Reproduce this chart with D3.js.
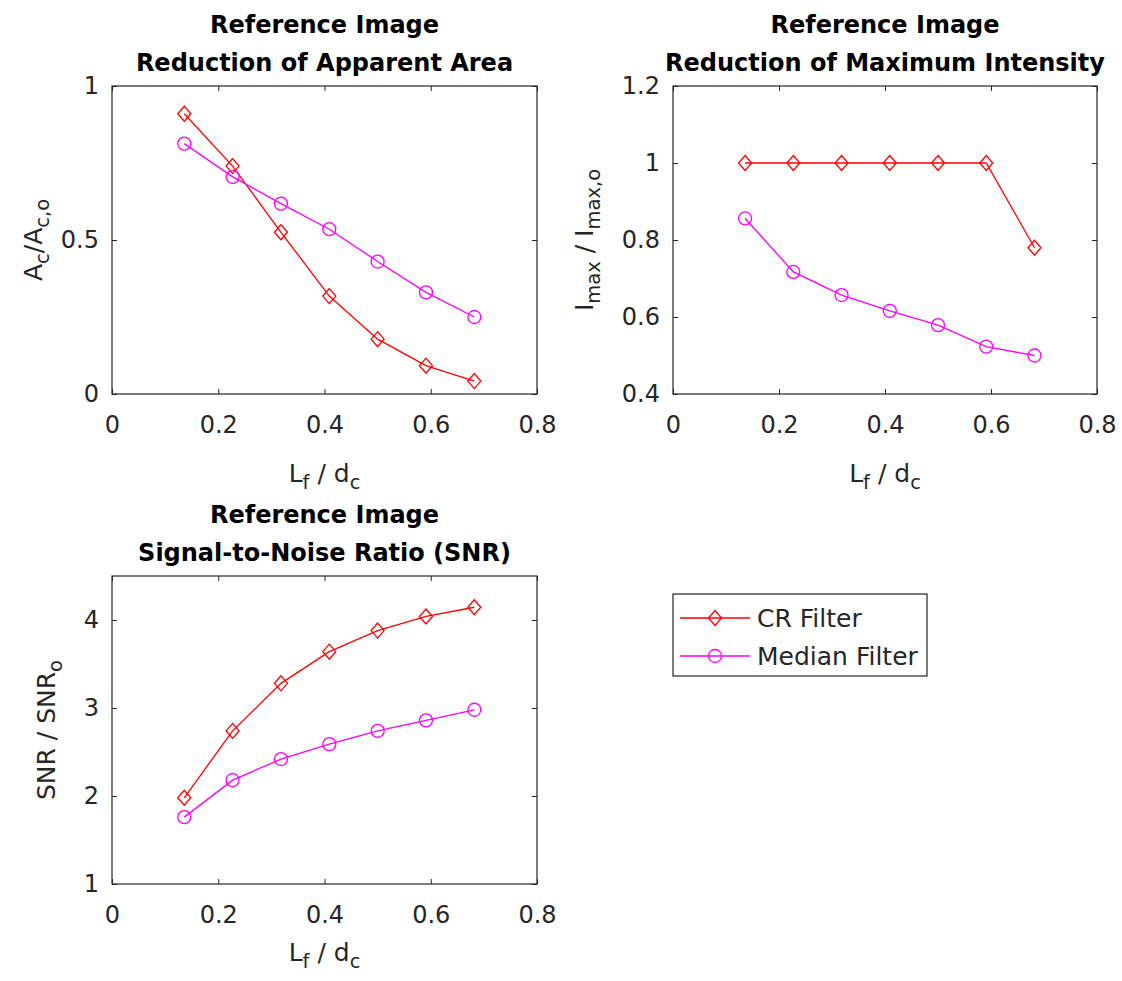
<!DOCTYPE html>
<html>
<head>
<meta charset="utf-8">
<script src="https://cdn.jsdelivr.net/npm/d3@7"></script>
<style>
  body { margin: 0; background: #fff; }
  svg { font-family: "DejaVu Sans", sans-serif; }
  .tick text { fill: #262626; }
</style>
</head>
<body>
<svg id="chart" width="1122" height="981"></svg>
<script>
// filter length ratio on the x axis, shared by every panel
const xRatio = [0.136, 0.227, 0.318, 0.409, 0.5, 0.591, 0.682];

const areaCR = [0.91, 0.74, 0.525, 0.318, 0.178, 0.092, 0.042];
const areaMedian = [0.813, 0.705, 0.618, 0.535, 0.43, 0.33, 0.25];

const intensityCR = [1, 1, 1, 1, 1, 1, 0.78];
const intensityMedian = [0.856, 0.717, 0.657, 0.616, 0.579, 0.523, 0.5];

const snrCR = [1.98, 2.74, 3.28, 3.64, 3.88, 4.04, 4.145];
const snrMedian = [1.76, 2.18, 2.42, 2.59, 2.74, 2.86, 2.98];

const seriesNames = ["CR Filter", "Median Filter"];
const seriesColors = ["#ff0000", "#ff00ff"];

const xTicks = [0, 0.2, 0.4, 0.6, 0.8];
const areaTicks = [0, 0.5, 1];
const intensityTicks = [0.4, 0.6, 0.8, 1, 1.2];
const snrTicks = [1, 2, 3, 4];

const svg = d3.select("#chart");
const axisColor = "#262626";
const tickSize = 24;
const labelSize = 25;

function drawPanel(p) {
  const x = d3.scaleLinear().domain([0, 0.8]).range([p.left, p.right]);
  const y = d3.scaleLinear().domain(p.yDomain).range([p.bottom, p.top]);
  const g = svg.append("g");

  // ticks point inward, on all four sides (box on)
  const fmt = d => String(d);
  g.append("g").attr("transform", `translate(0,${p.bottom})`)
    .call(d3.axisBottom(x).tickValues(xTicks).tickFormat(fmt).tickSizeInner(-5).tickSizeOuter(0).tickPadding(22));
  g.append("g").attr("transform", `translate(0,${p.top})`)
    .call(d3.axisTop(x).tickValues(xTicks).tickFormat("").tickSizeInner(-5).tickSizeOuter(0));
  g.append("g").attr("transform", `translate(${p.left},0)`)
    .call(d3.axisLeft(y).tickValues(p.yTicks).tickFormat(fmt).tickSizeInner(-5).tickSizeOuter(0).tickPadding(13));
  g.append("g").attr("transform", `translate(${p.right},0)`)
    .call(d3.axisRight(y).tickValues(p.yTicks).tickFormat("").tickSizeInner(-5).tickSizeOuter(0));

  g.selectAll(".domain").remove();
  g.selectAll(".tick line").attr("stroke", axisColor);
  g.selectAll(".tick text").attr("font-size", tickSize).attr("font-family", "DejaVu Sans, sans-serif");

  g.append("rect")
    .attr("x", p.left).attr("y", p.top)
    .attr("width", p.right - p.left).attr("height", p.bottom - p.top)
    .attr("fill", "none").attr("stroke", axisColor).attr("stroke-width", 1.2);

  // title, two lines
  const cx = (p.left + p.right) / 2;
  p.title.forEach((t, i) => {
    g.append("text").attr("x", cx).attr("y", p.top - 53 + i * 38)
      .attr("text-anchor", "middle").attr("font-weight", "bold")
      .attr("font-size", tickSize).attr("fill", "#000").text(t);
  });

  // x label L_f / d_c
  const xl = g.append("text").attr("x", cx).attr("y", p.bottom + p.xLabelGap)
    .attr("text-anchor", "middle").attr("font-size", labelSize).attr("fill", axisColor);
  addRich(xl, [["L"], ["f", 1], [" / d"], ["c", 1]]);

  // y label
  const yl = g.append("text")
    .attr("transform", `translate(${p.yLabelX},${(p.top + p.bottom) / 2}) rotate(-90)`)
    .attr("text-anchor", "middle").attr("font-size", labelSize).attr("fill", axisColor);
  addRich(yl, p.yLabel);

  const line = d3.line().x((d, i) => x(xRatio[i])).y(d => y(d));
  p.series.forEach((vals, k) => {
    const c = seriesColors[k];
    g.append("path").datum(vals).attr("d", line)
      .attr("fill", "none").attr("stroke", c).attr("stroke-width", 1.3);
    const pts = g.selectAll(null).data(vals).enter();
    if (k === 0) {
      pts.append("path")
        .attr("d", "M0,-7.5L6.5,0L0,7.5L-6.5,0Z")
        .attr("transform", (d, i) => `translate(${x(xRatio[i])},${y(d)})`)
        .attr("fill", "none").attr("stroke", c).attr("stroke-width", 1.3);
    } else {
      pts.append("circle")
        .attr("cx", (d, i) => x(xRatio[i])).attr("cy", d => y(d)).attr("r", 6.5)
        .attr("fill", "none").attr("stroke", c).attr("stroke-width", 1.3);
    }
  });
}

// parts: [text, isSub]
function addRich(sel, parts) {
  let shifted = false;
  parts.forEach(([t, sub]) => {
    const ts = sel.append("tspan").text(t);
    if (sub && !shifted) { ts.attr("dy", 7).attr("font-size", labelSize * 0.78); shifted = true; }
    else if (sub) { ts.attr("font-size", labelSize * 0.78); }
    else if (shifted) { ts.attr("dy", -7); shifted = false; }
  });
}

drawPanel({
  left: 112, right: 537, top: 86, bottom: 394,
  yDomain: [0, 1], yTicks: areaTicks, yLabelX: 42, xLabelGap: 88,
  title: ["Reference Image", "Reduction of Apparent Area"],
  yLabel: [["A"], ["c", 1], ["/A"], ["c,o", 1]],
  series: [areaCR, areaMedian]
});

drawPanel({
  left: 673, right: 1097, top: 86, bottom: 394,
  yDomain: [0.4, 1.2], yTicks: intensityTicks, yLabelX: 593, xLabelGap: 88,
  title: ["Reference Image", "Reduction of Maximum Intensity"],
  yLabel: [["I"], ["max", 1], [" / I"], ["max,o", 1]],
  series: [intensityCR, intensityMedian]
});

drawPanel({
  left: 112, right: 537, top: 576, bottom: 884,
  yDomain: [1, 4.5], yTicks: snrTicks, yLabelX: 55, xLabelGap: 77,
  title: ["Reference Image", "Signal-to-Noise Ratio (SNR)"],
  yLabel: [["SNR / SNR"], ["o", 1]],
  series: [snrCR, snrMedian]
});

// legend
const legend = svg.append("g").attr("transform", "translate(673,594)");
legend.append("rect").attr("width", 254).attr("height", 82)
  .attr("fill", "#fff").attr("stroke", axisColor).attr("stroke-width", 1.2);
seriesNames.forEach((name, k) => {
  const ly = 24 + k * 38;
  const c = seriesColors[k];
  legend.append("line").attr("x1", 7).attr("x2", 77).attr("y1", ly).attr("y2", ly)
    .attr("stroke", c).attr("stroke-width", 1.3);
  if (k === 0) {
    legend.append("path").attr("d", "M0,-7.5L6.5,0L0,7.5L-6.5,0Z")
      .attr("transform", `translate(42,${ly})`)
      .attr("fill", "none").attr("stroke", c).attr("stroke-width", 1.3);
  } else {
    legend.append("circle").attr("cx", 42).attr("cy", ly).attr("r", 6.5)
      .attr("fill", "none").attr("stroke", c).attr("stroke-width", 1.3);
  }
  legend.append("text").attr("x", 84).attr("y", ly + 9)
    .attr("font-size", labelSize).attr("fill", axisColor).text(name);
});
</script>
</body>
</html>
